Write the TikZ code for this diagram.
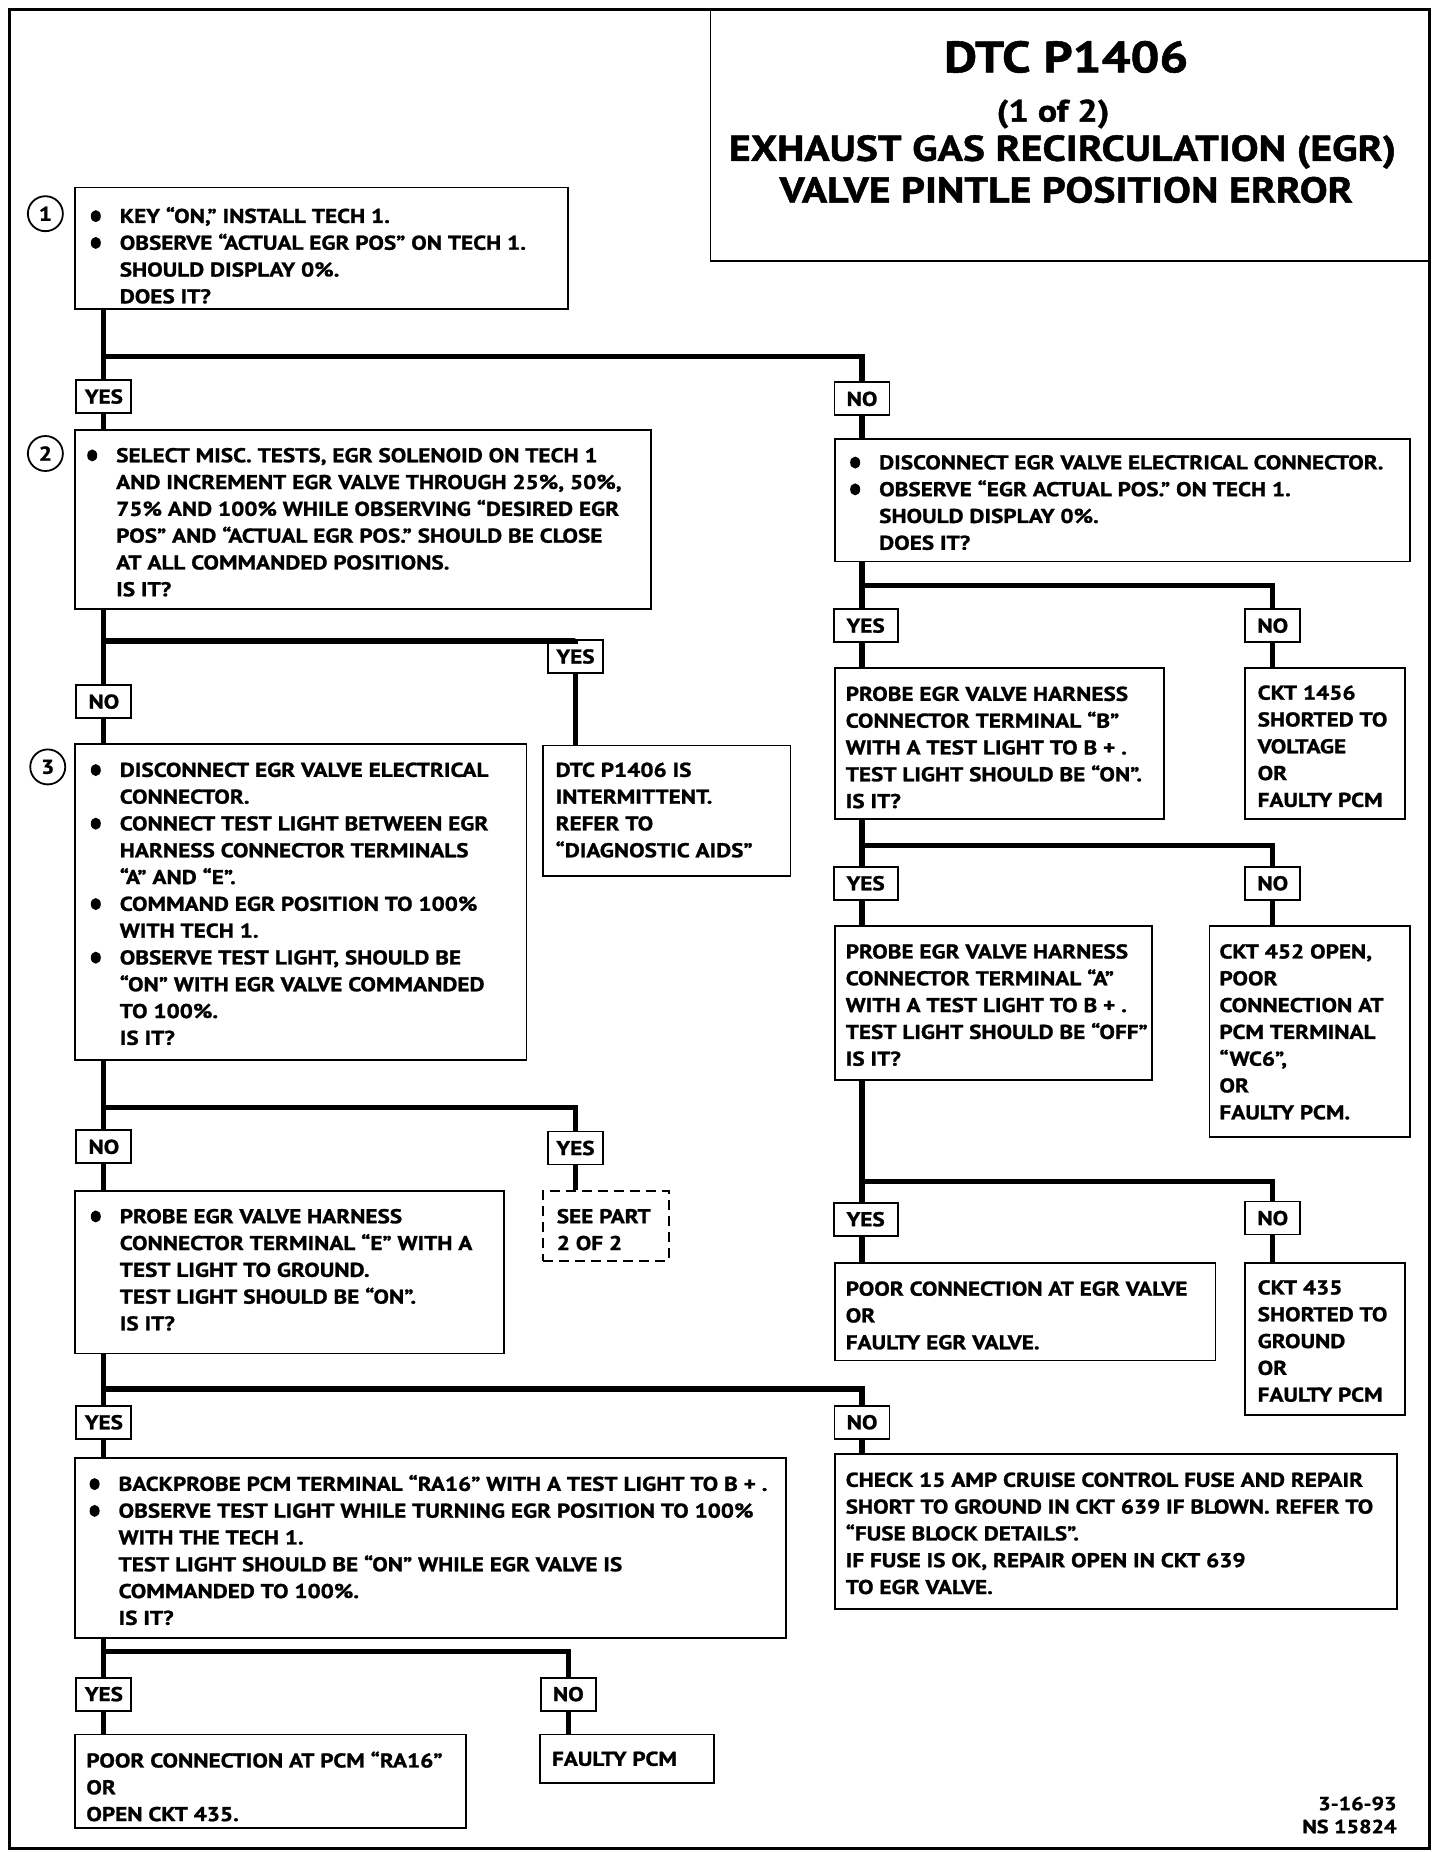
\documentclass[tikz,border=0pt]{standalone}
\usepackage{fontspec}
\setmainfont{PT Sans}[FakeStretch=1.16, BoldFeatures={FakeBold=1.2}]
\usetikzlibrary{fit}

\newcommand{\bul}{\leavevmode\llap{\tikz[baseline=-3.4pt]\fill (0,0) ellipse (2.5pt and 3pt);\hspace{9.5pt}}}

\tikzset{
  stepbox/.style={draw, line width=0.9pt, inner sep=0pt},
  txt/.style={anchor=north west, inner sep=0pt, align=left, font=\fontsize{10}{13.4}\selectfont\bfseries},
  ans/.style={draw, line width=0.9pt, fill=white, inner xsep=3pt, minimum width=27.5pt, minimum height=16.5pt, font=\fontsize{10}{12}\selectfont\bfseries},
  flow/.style={line width=2.6pt},
  num/.style={circle, draw, line width=0.9pt, minimum size=17.5pt, inner sep=0pt, font=\fontsize{10}{12}\selectfont\bfseries},
  head/.style={inner sep=0pt, font=\bfseries},
}

\begin{document}
\begin{tikzpicture}[x=0.597pt, y=0.5936pt]
  \useasboundingbox (0,0) rectangle (1206,-1560);
  \node[draw, line width=1.6pt, inner sep=0pt, fit={(8,-8) (1197,-1557)}] (frame) {};

  % title
  \node[stepbox, fit={(595,-8) (1197,-220)}] (title) {};
  \node[head, font=\fontsize{22}{26}\selectfont\bfseries] (ttl1) at (893,-48) {DTC P1406};
  \node[head, font=\fontsize{15.5}{19}\selectfont\bfseries] (ttl2) at (882,-96) {(1 of 2)};
  \node[head, font=\fontsize{18}{21}\selectfont\bfseries] (ttl3) at (890,-128) {EXHAUST GAS RECIRCULATION (EGR)};
  \node[head, font=\fontsize{18}{21}\selectfont\bfseries] (ttl4) at (893,-160) {VALVE PINTLE POSITION ERROR};

  % step 1
  \node[num] (c1) at (38,-180) {1};
  \node[stepbox, fit={(63,-158) (476,-260)}] (s1) {};
  \node[txt] (t1) at (100,-174) {\bul KEY “ON,” INSTALL TECH 1.\\
    \bul OBSERVE “ACTUAL EGR  POS” ON TECH 1.\\
    SHOULD DISPLAY 0\%.\\
    DOES IT?};
  \node[ans] (y1) at (87,-334) {YES};
  \node[ans] (n1) at (722,-336) {NO};

  % step 2
  \node[num] (c2) at (38,-382) {2};
  \node[stepbox, fit={(63,-362) (545,-513)}] (s2) {};
  \node[txt] (t2) at (97,-377) {\bul SELECT MISC. TESTS, EGR SOLENOID ON TECH 1\\
    AND INCREMENT EGR VALVE THROUGH 25\%, 50\%,\\
    75\% AND 100\% WHILE OBSERVING “DESIRED EGR\\
    POS” AND “ACTUAL EGR POS.”  SHOULD BE CLOSE\\
    AT ALL COMMANDED POSITIONS.\\
    IS IT?};
  \node[ans] (y2) at (482,-553) {YES};
  \node[ans] (n2) at (87,-591) {NO};
  \node[stepbox, fit={(455,-628) (662,-738)}] (s2y) {};
  \node[txt] (t2y) at (465,-642) {DTC P1406 IS\\
    INTERMITTENT.\\
    REFER TO\\
    “DIAGNOSTIC AIDS”};

  % step 3
  \node[num] (c3) at (40,-646) {3};
  \node[stepbox, fit={(63,-627) (441,-893)}] (s3) {};
  \node[txt] (t3) at (100,-642) {\bul DISCONNECT EGR VALVE ELECTRICAL\\
    CONNECTOR.\\
    \bul CONNECT TEST LIGHT BETWEEN EGR\\
    HARNESS CONNECTOR TERMINALS\\
    “A” AND “E”.\\
    \bul COMMAND EGR POSITION TO 100\%\\
    WITH TECH 1.\\
    \bul OBSERVE TEST LIGHT, SHOULD BE\\
    “ON” WITH EGR VALVE COMMANDED\\
    TO 100\%.\\
    IS IT?};
  \node[ans] (n3) at (87,-966) {NO};
  \node[ans] (y3) at (482,-967) {YES};
  \node[stepbox, dash pattern=on 5pt off 3pt, fit={(455,-1003) (560,-1062)}] (s3y) {};
  \node[txt] (t3y) at (466,-1018) {SEE PART\\
    2 OF 2};

  % probe terminal E
  \node[stepbox, fit={(63,-1003) (422,-1140)}] (s4) {};
  \node[txt] (t4) at (100,-1018) {\bul PROBE EGR VALVE HARNESS\\
    CONNECTOR TERMINAL “E” WITH A\\
    TEST LIGHT TO GROUND.\\
    TEST LIGHT SHOULD BE “ON”.\\
    IS IT?};
  \node[ans] (y4) at (87,-1198) {YES};
  \node[ans] (n4) at (722,-1198) {NO};

  % backprobe RA16
  \node[stepbox, fit={(63,-1228) (658,-1380)}] (s5) {};
  \node[txt] (t5) at (99,-1242) {\bul BACKPROBE PCM TERMINAL “RA16” WITH A TEST LIGHT TO B + .\\
    \bul OBSERVE TEST LIGHT WHILE TURNING EGR POSITION TO 100\%\\
    WITH THE TECH 1.\\
    TEST LIGHT SHOULD BE “ON” WHILE EGR VALVE IS\\
    COMMANDED TO 100\%.\\
    IS IT?};
  \node[ans] (y5) at (87,-1427) {YES};
  \node[ans] (n5) at (476,-1427) {NO};
  \node[stepbox, fit={(63,-1461) (390,-1540)}] (s5y) {};
  \node[txt] (t5y) at (72,-1475) {POOR CONNECTION AT PCM “RA16”\\
    OR\\
    OPEN CKT 435.};
  \node[stepbox, fit={(452,-1461) (598,-1502)}] (s5n) {};
  \node[txt] (t5n) at (462,-1475) {FAULTY PCM};

  \node[stepbox, fit={(699,-1225) (1170,-1355)}] (s4n) {};
  \node[txt] (t4n) at (708,-1240) {CHECK 15 AMP CRUISE CONTROL FUSE AND REPAIR\\
    SHORT TO GROUND IN CKT 639 IF BLOWN.  REFER TO\\
    “FUSE BLOCK DETAILS”.\\
    IF FUSE IS OK, REPAIR OPEN IN CKT 639\\
    TO EGR VALVE.};

  % right column
  \node[stepbox, fit={(699,-370) (1181,-473)}] (r1) {};
  \node[txt] (u1) at (736,-383) {\bul DISCONNECT EGR VALVE ELECTRICAL CONNECTOR.\\
    \bul OBSERVE “EGR ACTUAL POS.” ON TECH 1.\\
    SHOULD DISPLAY 0\%.\\
    DOES IT?};
  \node[ans, minimum width=32pt] (y6) at (725,-527) {YES};
  \node[ans] (n6) at (1066,-527) {NO};

  \node[stepbox, fit={(699,-563) (975,-690)}] (r2) {};
  \node[txt] (u2) at (708,-578) {PROBE EGR VALVE HARNESS\\
    CONNECTOR TERMINAL “B”\\
    WITH A TEST LIGHT TO B + .\\
    TEST LIGHT SHOULD BE “ON”.\\
    IS IT?};
  \node[stepbox, fit={(1043,-563) (1177,-690)}] (r2n) {};
  \node[txt] (u2n) at (1053,-577) {CKT 1456\\
    SHORTED TO\\
    VOLTAGE\\
    OR\\
    FAULTY PCM};
  \node[ans, minimum width=32pt] (y7) at (725,-744) {YES};
  \node[ans] (n7) at (1066,-744) {NO};

  \node[stepbox, fit={(699,-780) (965,-910)}] (r3) {};
  \node[txt] (u3) at (708,-795) {PROBE EGR VALVE HARNESS\\
    CONNECTOR TERMINAL “A”\\
    WITH A TEST LIGHT TO B + .\\
    TEST LIGHT SHOULD BE “OFF”\\
    IS IT?};
  \node[stepbox, fit={(1013,-780) (1181,-958)}] (r3n) {};
  \node[txt] (u3n) at (1021,-795) {CKT 452 OPEN,\\
    POOR\\
    CONNECTION AT\\
    PCM TERMINAL\\
    “WC6”,\\
    OR\\
    FAULTY PCM.};
  \node[ans, minimum width=32pt] (y8) at (725,-1027) {YES};
  \node[ans] (n8) at (1066,-1026) {NO};

  \node[stepbox, fit={(699,-1064) (1018,-1146)}] (r4) {};
  \node[txt] (u4) at (708,-1079) {POOR CONNECTION AT EGR VALVE\\
    OR\\
    FAULTY EGR VALVE.};
  \node[stepbox, fit={(1043,-1064) (1177,-1192)}] (r4n) {};
  \node[txt] (u4n) at (1053,-1078) {CKT 435\\
    SHORTED TO\\
    GROUND\\
    OR\\
    FAULTY PCM};

  \node[txt, align=right, anchor=north east, font=\fontsize{9.5}{11.5}\selectfont\bfseries] (code) at (1170,-1513) {3-16-93\\NS 15824};

  % connectors
  \coordinate (j1) at (0,-300);
  \coordinate (j2) at (0,-540);
  \coordinate (j3) at (0,-933);
  \coordinate (j4) at (0,-1170);
  \coordinate (j5) at (0,-1391);
  \coordinate (j6) at (0,-493);
  \coordinate (j7) at (0,-712);
  \coordinate (j8) at (0,-995);

  \draw[flow] (s1.south -| y1) -- (y1.north);
  \draw[flow] (y1 |- j1) -| (n1.north);
  \draw[flow] (y1.south) -- (y1.south |- s2.north);
  \draw[flow] (n1.south) -- (n1.south |- r1.north);

  \draw[flow] (s2.south -| n2) -- (n2.north);
  \draw[flow] (n2 |- j2) -| (y2.north);
  \draw[flow] (y2.south) -- (y2.south |- s2y.north);
  \draw[flow] (n2.south) -- (n2.south |- s3.north);

  \draw[flow] (s3.south -| n3) -- (n3.north);
  \draw[flow] (n3 |- j3) -| (y3.north);
  \draw[flow] (y3.south) -- (y3.south |- s3y.north);
  \draw[flow] (n3.south) -- (n3.south |- s4.north);

  \draw[flow] (s4.south -| y4) -- (y4.north);
  \draw[flow] (y4 |- j4) -| (n4.north);
  \draw[flow] (y4.south) -- (y4.south |- s5.north);
  \draw[flow] (n4.south) -- (n4.south |- s4n.north);

  \draw[flow] (s5.south -| y5) -- (y5.north);
  \draw[flow] (y5 |- j5) -| (n5.north);
  \draw[flow] (y5.south) -- (y5.south |- s5y.north);
  \draw[flow] (n5.south) -- (n5.south |- s5n.north);

  \draw[flow] (r1.south -| n1) -- (n1 |- y6.north);
  \draw[flow] (n1 |- j6) -| (n6.north);
  \draw[flow] (n1 |- y6.south) -- (n1 |- r2.north);
  \draw[flow] (n6.south) -- (n6.south |- r2n.north);

  \draw[flow] (r2.south -| n1) -- (n1 |- y7.north);
  \draw[flow] (n1 |- j7) -| (n7.north);
  \draw[flow] (n1 |- y7.south) -- (n1 |- r3.north);
  \draw[flow] (n7.south) -- (n7.south |- r3n.north);

  \draw[flow] (r3.south -| n1) -- (n1 |- y8.north);
  \draw[flow] (n1 |- j8) -| (n8.north);
  \draw[flow] (n1 |- y8.south) -- (n1 |- r4.north);
  \draw[flow] (n8.south) -- (n8.south |- r4n.north);
\end{tikzpicture}
\end{document}
